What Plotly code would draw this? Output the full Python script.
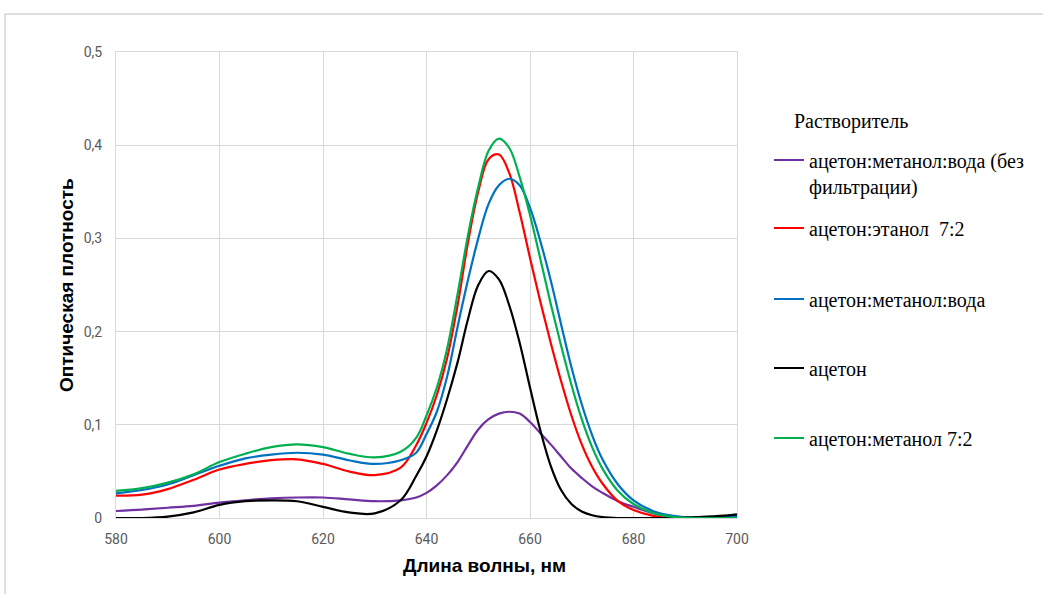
import plotly.graph_objects as go

wavelength = [580, 585, 590, 595, 600, 605, 610, 615, 620, 625, 630, 635, 638, 640, 642, 644, 646, 648,
              650, 652, 654, 656, 658, 660, 662, 664, 666, 668, 670, 672, 674, 677, 680, 684, 688, 692, 696, 700]

purple = [0.0075, 0.009, 0.011, 0.013, 0.0165, 0.019, 0.021, 0.022, 0.022, 0.020, 0.018, 0.019, 0.022, 0.027,
          0.035, 0.046, 0.060, 0.078, 0.095, 0.106, 0.112, 0.114, 0.112, 0.103, 0.091, 0.079, 0.066, 0.053,
          0.043, 0.034, 0.027, 0.018, 0.012, 0.005, 0.0015, 0.0, 0.001, 0.003]
red = [0.024, 0.025, 0.031, 0.041, 0.052, 0.058, 0.062, 0.063, 0.058, 0.050, 0.046, 0.054, 0.078, 0.102,
       0.132, 0.172, 0.228, 0.295, 0.350, 0.385, 0.390, 0.370, 0.328, 0.279, 0.232, 0.188, 0.147, 0.110,
       0.079, 0.055, 0.037, 0.018, 0.0085, 0.002, 0.0, 0.0, 0.0, 0.0]
blue = [0.0265, 0.030, 0.036, 0.046, 0.056, 0.064, 0.068, 0.070, 0.068, 0.062, 0.058, 0.062, 0.070, 0.090,
        0.114, 0.152, 0.205, 0.255, 0.300, 0.337, 0.357, 0.364, 0.357, 0.333, 0.297, 0.255, 0.208, 0.162,
        0.122, 0.089, 0.063, 0.036, 0.019, 0.007, 0.002, 0.0005, 0.001, 0.002]
black = [0.0, 0.0, 0.0015, 0.006, 0.014, 0.018, 0.019, 0.018, 0.012, 0.006, 0.005, 0.019, 0.045, 0.066,
         0.094, 0.128, 0.167, 0.213, 0.250, 0.265, 0.256, 0.228, 0.188, 0.140, 0.094, 0.056, 0.030, 0.015,
         0.007, 0.003, 0.001, 0.0, 0.0, 0.0, 0.0, 0.001, 0.002, 0.004]
green = [0.029, 0.032, 0.038, 0.047, 0.060, 0.069, 0.076, 0.079, 0.076, 0.069, 0.065, 0.071, 0.086, 0.110,
         0.140, 0.182, 0.240, 0.303, 0.355, 0.394, 0.407, 0.397, 0.366, 0.325, 0.278, 0.230, 0.185, 0.143,
         0.106, 0.076, 0.053, 0.029, 0.015, 0.005, 0.001, 0.0, 0.0, 0.0]

legend_title = "Растворитель"
names = ["ацетон:метанол:вода (без<br>фильтрации)", "ацетон:этанол  7:2", "ацетон:метанол:вода",
         "ацетон", "ацетон:метанол 7:2"]
colors = ["#7030A0", "#FF0000", "#0070C0", "#000000", "#00B050"]
series = [purple, red, blue, black, green]
legend_ids = ["legend", "legend2", "legend3", "legend4", "legend5"]

x_ticks = [580, 600, 620, 640, 660, 680, 700]
y_ticks = [0, 0.1, 0.2, 0.3, 0.4, 0.5]
y_ticklabels = ["0", "0,1", "0,2", "0,3", "0,4", "0,5"]

fig = go.Figure()
for nm, col, ys, lg in zip(names, colors, series, legend_ids):
    fig.add_trace(go.Scatter(x=wavelength, y=ys, mode="lines", name=nm, legend=lg,
                             line=dict(color=col, width=2.2, shape="spline", smoothing=1.0)))

W, H = 1043, 594
L, R, T, B = 116, 306, 52, 76
pw, ph = W - L - R, H - T - B


def px(xp):
    return (xp - L) / pw


def py(yp):
    return (H - B - yp) / ph


legend_font = dict(family="Liberation Serif", size=20, color="#000000")
common_leg = dict(x=px(769), xanchor="left", bgcolor="rgba(0,0,0,0)", font=legend_font, valign="top")

layout_legends = {}
for lg, yc in zip(legend_ids, [173, 228, 299, 368, 438]):
    layout_legends[lg] = dict(common_leg, y=py(yc), yanchor="middle")

tick_font = dict(family="Roboto, Liberation Sans, sans-serif", size=14, color="#595959")
title_font = dict(family="Liberation Sans Narrow, Liberation Sans, Arial, sans-serif", size=19, color="#000000")

fig.update_layout(
    width=W, height=H,
    margin=dict(l=L, r=R, t=T, b=B),
    paper_bgcolor="white", plot_bgcolor="white",
    showlegend=True,
    xaxis=dict(range=[580, 700], tickvals=x_ticks, showgrid=True, gridcolor="#D9D9D9", gridwidth=1,
               showline=True, linecolor="#D9D9D9", mirror=True, zeroline=False, ticks="",
               tickfont=tick_font, ticklabelstandoff=8),
    yaxis=dict(range=[0, 0.5], tickvals=y_ticks, ticktext=y_ticklabels, showgrid=True, gridcolor="#D9D9D9",
               gridwidth=1, showline=True, linecolor="#D9D9D9", mirror=True, zeroline=False, ticks="",
               tickfont=tick_font, ticklabelstandoff=10),
    annotations=[
        dict(text=legend_title, x=px(792), y=py(121), xref="paper", yref="paper",
             showarrow=False, font=legend_font, xanchor="left", yanchor="middle"),
        dict(text="<b>Длина волны, нм</b>", x=px(484), y=py(565), xref="paper", yref="paper",
             showarrow=False, font=title_font, xanchor="center", yanchor="middle"),
        dict(text="<b>Оптическая плотность</b>", x=px(66), y=py(285), xref="paper", yref="paper",
             showarrow=False, font=title_font, textangle=-90, xanchor="center", yanchor="middle"),
    ],
    shapes=[
        dict(type="line", xref="paper", yref="paper", x0=px(5), y0=py(14), x1=px(W + 5), y1=py(14),
             line=dict(color="#BFBFBF", width=1)),
        dict(type="line", xref="paper", yref="paper", x0=px(5), y0=py(14), x1=px(5), y1=py(H + 5),
             line=dict(color="#BFBFBF", width=1)),
    ],
    **layout_legends,
)

fig.write_html("out.html")
